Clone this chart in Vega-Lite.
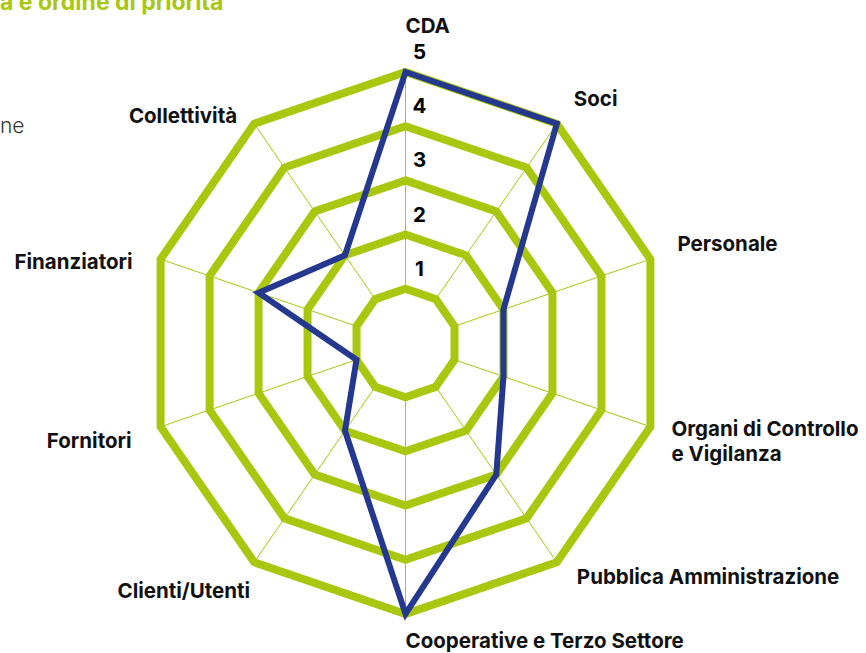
{
  "$schema": "https://vega.github.io/schema/vega-lite/v6.json",
  "width": 866,
  "height": 653,
  "padding": 0,
  "autosize": {"type": "none"},
  "background": "white",
  "config": {"view": {"stroke": null}, "font": "Inter", "text": {"font": "Inter", "fontSize": 20.5, "fontWeight": "bold", "color": "#111111", "baseline": "middle"}},
  "title": {
    "text": "a e ordine di priorità",
    "subtitle": "ne",
    "anchor": "start",
    "frame": "group",
    "orient": "top",
    "offset": -155,
    "baseline": "alphabetic",
    "font": "Inter",
    "fontSize": 23,
    "fontWeight": "bold",
    "color": "#a9c70f",
    "subtitleFont": "Inter",
    "subtitleFontSize": 21,
    "subtitleFontWeight": 300,
    "subtitleColor": "#333333",
    "subtitlePadding": 100
  },
  "datasets": {
    "axes": [
      {"idx": 0, "label": "CDA", "value": 5},
      {"idx": 1, "label": "Soci", "value": 5},
      {"idx": 2, "label": "Personale", "value": 2},
      {"idx": 3, "label": "Organi di Controllo\ne Vigilanza", "value": 2},
      {"idx": 4, "label": "Pubblica Amministrazione", "value": 3},
      {"idx": 5, "label": "Cooperative e Terzo Settore", "value": 5},
      {"idx": 6, "label": "Clienti/Utenti", "value": 2},
      {"idx": 7, "label": "Fornitori", "value": 1},
      {"idx": 8, "label": "Finanziatori", "value": 3},
      {"idx": 9, "label": "Collettività", "value": 2}
    ],
    "rings": [
      {"level": 1, "idx": [0, 1, 2, 3, 4, 5, 6, 7, 8, 9]},
      {"level": 2, "idx": [0, 1, 2, 3, 4, 5, 6, 7, 8, 9]},
      {"level": 3, "idx": [0, 1, 2, 3, 4, 5, 6, 7, 8, 9]},
      {"level": 4, "idx": [0, 1, 2, 3, 4, 5, 6, 7, 8, 9]},
      {"level": 5, "idx": [0, 1, 2, 3, 4, 5, 6, 7, 8, 9]}
    ]
  },
  "resolve": {"scale": {"x": "shared", "y": "shared"}},
  "layer": [
    {
      "data": {"name": "axes"},
      "transform": [
        {"calculate": "sin(datum.idx*PI/5)", "as": "sx"},
        {"calculate": "cos(datum.idx*PI/5)", "as": "cy"},
        {"calculate": "datum.sx", "as": "x1"},
        {"calculate": "datum.cy", "as": "y1"},
        {"calculate": "5*datum.sx", "as": "x5"},
        {"calculate": "5*datum.cy", "as": "y5"}
      ],
      "mark": {"type": "rule", "stroke": "#a9c70f", "strokeWidth": 1},
      "encoding": {
        "x": {"field": "x1", "type": "quantitative", "scale": {"domain": [-7.874, 8.942], "nice": false, "zero": false}, "axis": null},
        "y": {"field": "y1", "type": "quantitative", "scale": {"domain": [-5.72, 6.328], "nice": false, "zero": false}, "axis": null},
        "x2": {"field": "x5"},
        "y2": {"field": "y5"}
      }
    },
    {
      "data": {"name": "rings"},
      "transform": [
        {"flatten": ["idx"]},
        {"calculate": "datum.level*sin(datum.idx*PI/5)", "as": "x"},
        {"calculate": "datum.level*cos(datum.idx*PI/5)", "as": "y"}
      ],
      "mark": {"type": "line", "interpolate": "linear-closed", "stroke": "#a9c70f", "strokeWidth": 8, "strokeJoin": "miter", "strokeMiterLimit": 10},
      "encoding": {
        "x": {"field": "x", "type": "quantitative"},
        "y": {"field": "y", "type": "quantitative"},
        "detail": {"field": "level"},
        "order": {"field": "idx"}
      }
    },
    {
      "data": {"name": "axes"},
      "transform": [
        {"calculate": "datum.value*sin(datum.idx*PI/5)", "as": "x"},
        {"calculate": "datum.value*cos(datum.idx*PI/5)", "as": "y"}
      ],
      "mark": {"type": "line", "interpolate": "linear-closed", "stroke": "#24388f", "strokeWidth": 6, "strokeJoin": "miter", "strokeMiterLimit": 10},
      "encoding": {
        "x": {"field": "x", "type": "quantitative"},
        "y": {"field": "y", "type": "quantitative"},
        "order": {"field": "idx"}
      }
    },
    {
      "data": {"name": "rings"},
      "mark": {"type": "text", "align": "center", "dx": 14, "dy": -19, "color": "#000000"},
      "encoding": {
        "x": {"datum": 0},
        "y": {"field": "level", "type": "quantitative"},
        "text": {"field": "level"}
      }
    },
    {
      "data": {"name": "axes"},
      "transform": [
        {"calculate": "5*sin(datum.idx*PI/5)", "as": "x"},
        {"calculate": "5*cos(datum.idx*PI/5)", "as": "y"}
      ],
      "layer": [
        {"transform": [{"filter": "datum.idx==0"}], "mark": {"type": "text", "align": "left", "dx": 0, "dy": -45}},
        {"transform": [{"filter": "datum.idx==1"}], "mark": {"type": "text", "align": "left", "dx": 17, "dy": -24}},
        {"transform": [{"filter": "datum.idx==2"}], "mark": {"type": "text", "align": "left", "dx": 27, "dy": -14}},
        {"transform": [{"filter": "datum.idx==3"}], "mark": {"type": "text", "align": "left", "dx": 21, "dy": 3.5, "lineBreak": "\n", "lineHeight": 25}},
        {"transform": [{"filter": "datum.idx==4"}], "mark": {"type": "text", "align": "left", "dx": 20, "dy": 16}},
        {"transform": [{"filter": "datum.idx==5"}], "mark": {"type": "text", "align": "left", "dx": 0, "dy": 28}},
        {"transform": [{"filter": "datum.idx==6"}], "mark": {"type": "text", "align": "right", "dx": -4, "dy": 30}},
        {"transform": [{"filter": "datum.idx==7"}], "mark": {"type": "text", "align": "right", "dx": -29, "dy": 15}},
        {"transform": [{"filter": "datum.idx==8"}], "mark": {"type": "text", "align": "right", "dx": -28, "dy": 3.5}},
        {"transform": [{"filter": "datum.idx==9"}], "mark": {"type": "text", "align": "right", "dx": -17, "dy": -7}}
      ],
      "encoding": {
        "x": {"field": "x", "type": "quantitative"},
        "y": {"field": "y", "type": "quantitative"},
        "text": {"field": "label"}
      }
    }
  ]
}
